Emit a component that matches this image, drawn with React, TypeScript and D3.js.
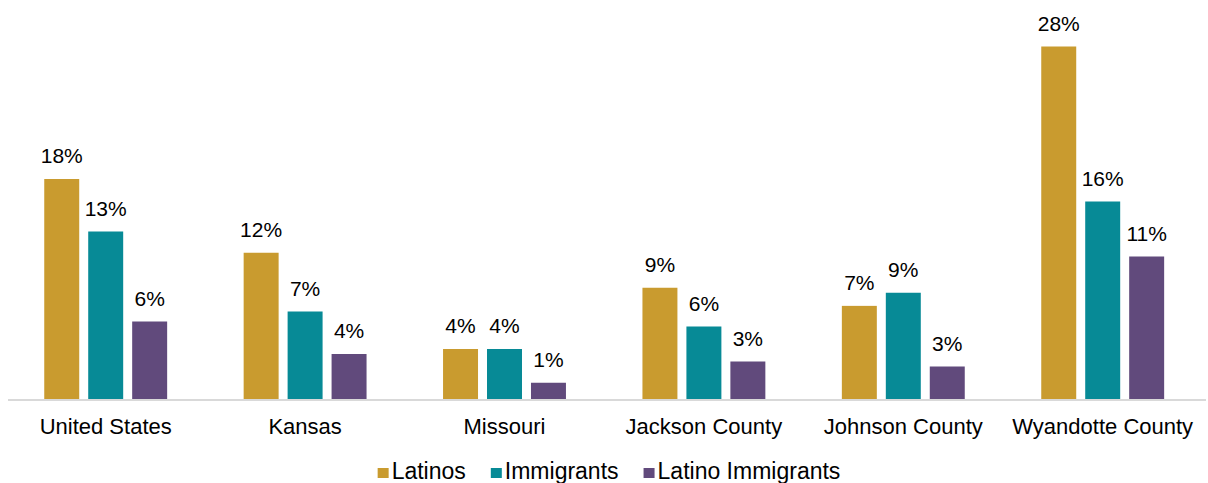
import * as React from 'react';
import * as d3 from 'd3';

const categories = ['United States', 'Kansas', 'Missouri', 'Jackson County', 'Johnson County', 'Wyandotte County'];
const series = ['Latinos', 'Immigrants', 'Latino Immigrants'];
const latinos = [17.6, 11.7, 4.0, 8.9, 7.45, 28.2];
const immigrants = [13.4, 7.0, 4.0, 5.8, 8.5, 15.8];
const latinoImmigrants = [6.2, 3.6, 1.3, 3.0, 2.6, 11.4];
const colors = ['#C99B2F', '#078A96', '#614A7C'];

const width = 1208;
const height = 483;
const baseline = 399;
const font = '"Liberation Sans", Arial, sans-serif';

function textWidth(text: string, size: number) {
  const ctx = document.createElement('canvas').getContext('2d');
  if (!ctx) return text.length * size * 0.55;
  ctx.font = `${size}px ${font}`;
  return ctx.measureText(text).width;
}

const App: React.FC = () => {
  const values = [latinos, immigrants, latinoImmigrants];

  const x0 = d3.scaleBand<string>().domain(categories).range([6, 1202.4]);
  const x1 = d3.scaleBand<string>()
    .domain(series)
    .range([0, x0.bandwidth()])
    .paddingInner(0.2045)
    .paddingOuter(0.87);
  const y = d3.scaleLinear().domain([0, 30]).range([baseline, baseline - 375]);

  // legend layout, centered
  const legendSize = 23;
  const swatch = 11;
  const itemW = series.map(s => swatch + 3 + textWidth(s, legendSize));
  const legendGap = 25;
  const totalW = d3.sum(itemW) + legendGap * (series.length - 1);
  let cursor = 609 - totalW / 2;
  const legendX = itemW.map(w => {
    const xx = cursor;
    cursor += w + legendGap;
    return xx;
  });

  return (
    <svg width={width} height={height} style={{ position: 'absolute', left: 0, top: 0 }} fontFamily={font}>
      <rect width={width} height={height} fill="#fff" />
      {categories.map((c, i) => (
        <g key={c} transform={`translate(${x0(c)},0)`}>
          {series.map((s, j) => {
            const v = values[j][i];
            const bx = x1(s)!;
            return (
              <g key={s}>
                <rect x={bx} y={y(v)} width={x1.bandwidth()} height={baseline - y(v)} fill={colors[j]} />
                <text
                  x={bx + x1.bandwidth() / 2}
                  y={y(v) - 16}
                  textAnchor="middle"
                  fontSize={21}
                  fill="#000"
                >
                  {`${Math.round(v)}%`}
                </text>
              </g>
            );
          })}
          <text x={x0.bandwidth() / 2} y={434} textAnchor="middle" fontSize={22} fill="#000">
            {c}
          </text>
        </g>
      ))}
      <line x1={8} x2={1206} y1={baseline + 1} y2={baseline + 1} stroke="#D9D9D9" strokeWidth={2} />
      {series.map((s, j) => (
        <g key={s} transform={`translate(${legendX[j]},0)`}>
          <rect x={0} y={468} width={swatch} height={10} fill={colors[j]} />
          <text x={swatch + 3} y={479} fontSize={legendSize} fill="#000">
            {s}
          </text>
        </g>
      ))}
    </svg>
  );
};

export default App;
